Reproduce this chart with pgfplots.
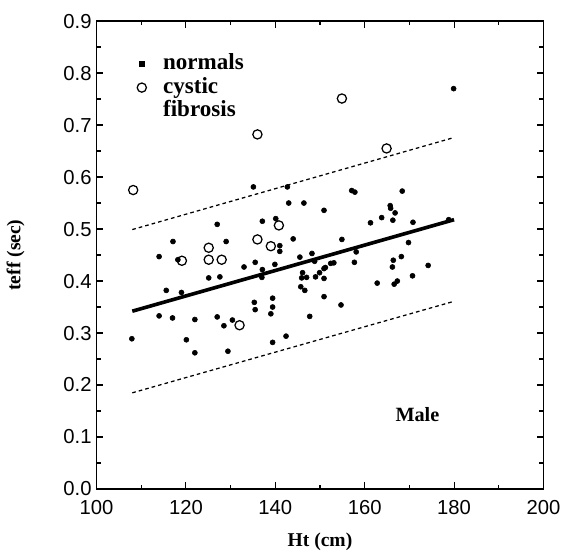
\documentclass[border=0pt]{standalone}
\usepackage{fontspec}
\setmainfont{Liberation Serif}
\newfontfamily\ticksf{Liberation Sans}
\usepackage{pgfplots}
\pgfplotsset{compat=1.18}

\begin{document}
\begin{tikzpicture}
\begin{axis}[
    scale only axis,
    width=11.25cm,
    height=11.78cm,
    xmin=100, xmax=200,
    ymin=0, ymax=0.9,
    xtick={100,120,...,200},
    ytick={0,0.1,...,0.9},
    minor x tick num=1,
    minor y tick num=1,
    tick align=inside,
    major tick length=0.17cm,
    minor tick length=0.1cm,
    axis line style={line width=0.9pt},
    every tick/.style={black, line width=0.8pt},
    ticklabel style={font=\fontsize{14.5}{16}\ticksf},
    /pgf/number format/assume math mode=true,
    yticklabel style={/pgf/number format/fixed, /pgf/number format/fixed zerofill, /pgf/number format/precision=1},
    xticklabel style={/pgf/number format/1000 sep={}, yshift=-0.17cm},
    xlabel={\bfseries Ht (cm)},
    ylabel={\bfseries teff (sec)},
    label style={font=\fontsize{14}{16}\selectfont},
    xlabel style={yshift=-0.2cm},
    ylabel style={yshift=21pt},
    legend style={draw=none, fill=none, at={(0.074,0.93)}, anchor=north west,
        inner sep=0pt,
        font=\fontsize{16.5}{18}\selectfont\bfseries,
        nodes={inner sep=0pt, text height=11pt, text depth=3pt},
        row sep=3pt, column sep=12pt},
    legend cell align=left,
    clip=false,
]
% invisible frame so the page has the reference margins
\path (rel axis cs:-0.216,-0.136) rectangle (rel axis cs:1.04,1.045);

\addlegendimage{only marks, mark=square*, mark size=1.6pt, black}
\addlegendentry{normals}
\addlegendimage{only marks, mark=o, mark size=3.3pt, black, line width=0.9pt}
\addlegendentry{cystic}
\addlegendimage{empty legend}
\addlegendentry{fibrosis}

% regression line and limits
\addplot[black, line width=2.6pt, forget plot] coordinates {(108,0.342) (180,0.518)};
\addplot[black, line width=0.9pt, dash pattern=on 2.6pt off 2.2pt, forget plot] coordinates {(108,0.499) (180,0.676)};
\addplot[black, line width=0.9pt, dash pattern=on 2.6pt off 2.2pt, forget plot] coordinates {(108,0.185) (180,0.361)};

% normals
\addplot[only marks, mark=*, mark size=1.8pt, black, forget plot] coordinates {
(107.9,0.289) (114.0,0.447) (114.0,0.333) (115.6,0.382) (117.1,0.476)
(117.0,0.329) (118.2,0.441) (119.0,0.378) (120.1,0.287) (122.0,0.326)
(122.0,0.262) (125.1,0.406) (127.0,0.509) (127.6,0.408) (127.0,0.331)
(128.5,0.314) (129.0,0.476) (129.4,0.265) (130.4,0.325) (133.0,0.427)
(135.1,0.581) (135.5,0.436) (135.3,0.359) (135.5,0.345) (137.1,0.515)
(137.1,0.422) (137.0,0.407) (139.4,0.282) (139.4,0.367) (139.4,0.350)
(139.0,0.337) (139.9,0.432) (140.1,0.520) (141.0,0.468) (141.0,0.457)
(142.4,0.294) (142.7,0.581) (143.0,0.550) (144.0,0.481) (145.5,0.446)
(146.4,0.550) (146.1,0.416) (145.9,0.406) (147.0,0.407) (145.7,0.389)
(146.6,0.382) (147.7,0.332) (148.2,0.453) (148.8,0.438) (149.0,0.408)
(149.9,0.416) (150.9,0.405) (150.9,0.424) (150.9,0.536) (150.9,0.370)
(151.2,0.426) (152.4,0.434) (153.1,0.435) (154.7,0.354) (154.9,0.480)
(157.1,0.574) (157.8,0.571) (157.7,0.436) (158.1,0.456) (161.3,0.512)
(162.8,0.396) (163.8,0.522) (165.7,0.545) (165.8,0.540) (166.8,0.531)
(166.3,0.517) (166.4,0.440) (166.2,0.427) (166.6,0.394) (167.3,0.400)
(168.2,0.447) (168.4,0.573) (169.8,0.474) (170.8,0.513) (170.7,0.410)
(174.2,0.430) (178.8,0.518) (179.9,0.770)
};

% cystic fibrosis
\addplot[only marks, mark=o, mark size=3.3pt, black, line width=0.9pt, forget plot] coordinates {
(108.2,0.575) (119.1,0.439) (125.1,0.464) (125.1,0.441) (128.0,0.441)
(132.0,0.315) (136.0,0.682) (136.0,0.480) (139.0,0.467) (140.8,0.507)
(154.9,0.751) (164.9,0.655)
};

\node[font=\fontsize{14.5}{16}\selectfont\bfseries] at (axis cs:171.8,0.144) {Male};
\end{axis}
\end{tikzpicture}
\end{document}
